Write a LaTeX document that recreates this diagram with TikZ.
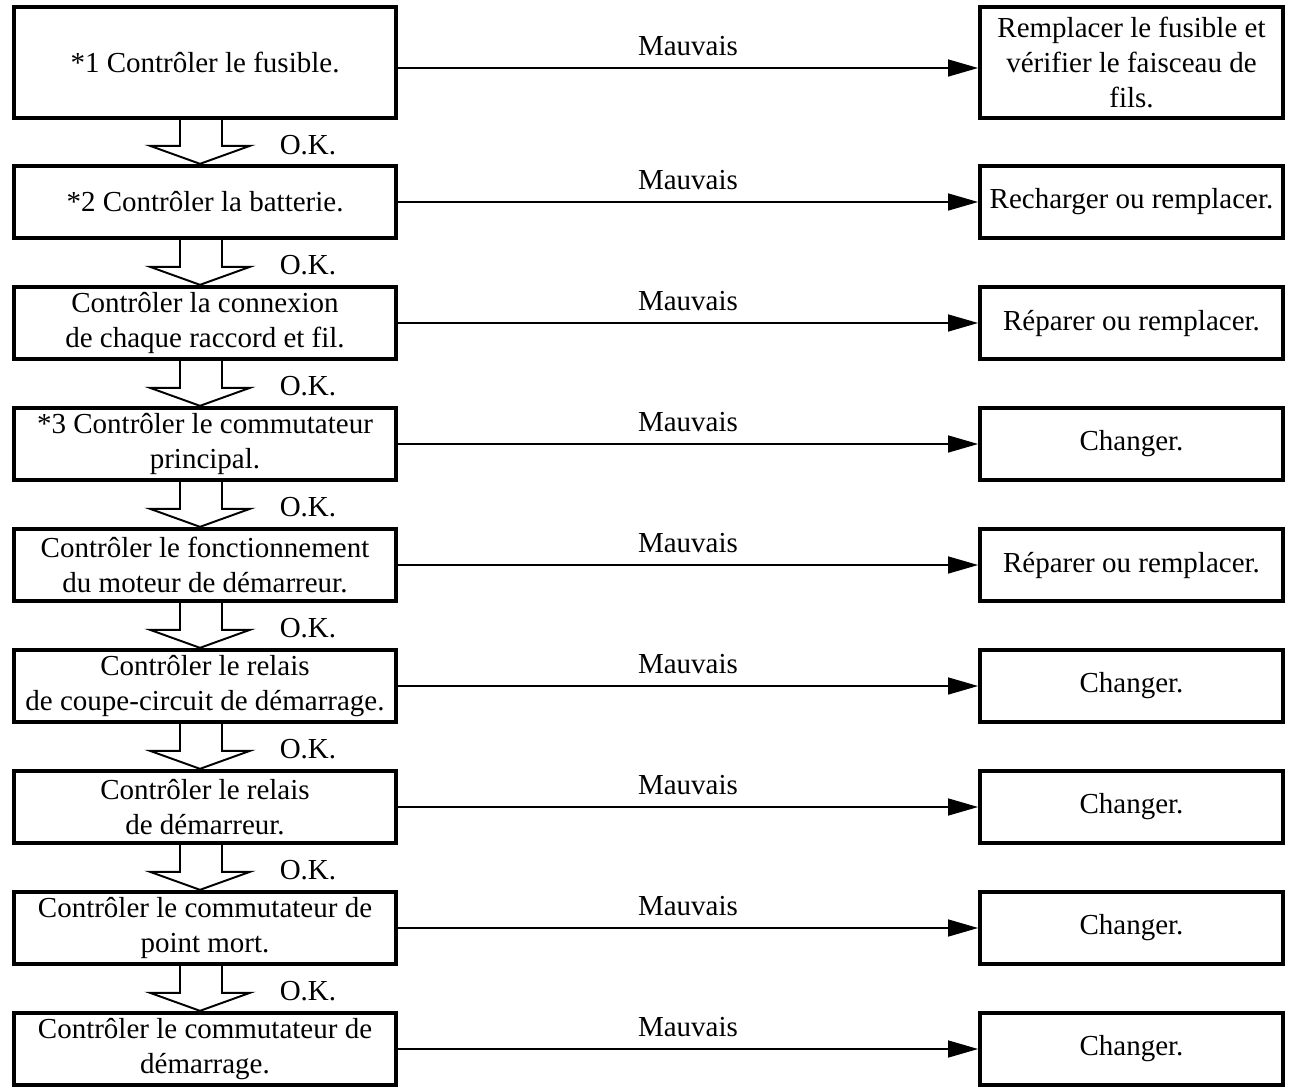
\documentclass[tikz,border=0pt]{standalone}
\usepackage{fontspec}
\setmainfont{Liberation Serif}
\newfontfamily\chartfont{Liberation Serif}
\usetikzlibrary{arrows.meta,calc,positioning}

\tikzset{
  txt/.style={font=\chartfont\fontsize{16.5}{20}\selectfont},
  checkbox/.style={txt,draw,line width=2.2pt,minimum width=7.64cm,minimum height=1.45cm,align=center,inner sep=1pt},
  fixbox/.style={txt,draw,line width=2.2pt,minimum width=6.06cm,minimum height=1.45cm,align=center,inner sep=1pt},
  bad/.style={line width=.85pt,-{Triangle[length=.6cm,width=.34cm]}},
  okarrow/.style={line width=1.1pt,line join=miter}
}

\begin{document}
\begin{tikzpicture}
    \useasboundingbox (0,0) rectangle (25.82,-21.76);
    % checks
    \node[checkbox,minimum height=2.22cm] (c1) at (4.1,-1.25) {*1 Contrôler le fusible.};
    \node[checkbox] (c2) at (4.1,-4.04) {*2 Contrôler la batterie.};
    \node[checkbox] (c3) at (4.1,-6.46) {Contrôler la connexion\\de chaque raccord et fil.};
    \node[checkbox] (c4) at (4.1,-8.88) {*3 Contrôler le commutateur\\principal.};
    \node[checkbox] (c5) at (4.1,-11.30) {Contrôler le fonctionnement\\du moteur de démarreur.};
    \node[checkbox] (c6) at (4.1,-13.72) {Contrôler le relais\\de coupe-circuit de démarrage.};
    \node[checkbox] (c7) at (4.1,-16.14) {Contrôler le relais\\de démarreur.};
    \node[checkbox] (c8) at (4.1,-18.56) {Contrôler le commutateur de\\point mort.};
    \node[checkbox] (c9) at (4.1,-20.98) {Contrôler le commutateur de\\démarrage.};
    % remedies
    \node[fixbox,minimum height=2.22cm] (r1) at (22.63,-1.25) {Remplacer le fusible et\\vérifier le faisceau de\\fils.};
    \node[fixbox] (r2) at (22.63,-4.04) {Recharger ou remplacer.};
    \node[fixbox] (r3) at (22.63,-6.46) {Réparer ou remplacer.};
    \node[fixbox] (r4) at (22.63,-8.88) {Changer.};
    \node[fixbox] (r5) at (22.63,-11.30) {Réparer ou remplacer.};
    \node[fixbox] (r6) at (22.63,-13.72) {Changer.};
    \node[fixbox] (r7) at (22.63,-16.14) {Changer.};
    \node[fixbox] (r8) at (22.63,-18.56) {Changer.};
    \node[fixbox] (r9) at (22.63,-20.98) {Changer.};
    % Mauvais
    \draw[bad] ([yshift=-.11cm]c1.east) -- node[txt,above=3pt] (m1) {Mauvais} ([yshift=-.11cm]r1.west);
    \foreach \i in {2,...,9}
      \draw[bad] (c\i) -- node[txt,above=3pt] (m\i) {Mauvais} (r\i);
    % O.K.
    \foreach \a/\b in {1/2,2/3,3/4,4/5,5/6,6/7,7/8,8/9} {
      \draw[okarrow] ($(c\a.south)+(-.5,0)$) -- ($(c\b.north)+(-.5,.36)$) -- ($(c\b.north)+(-1.1,.36)$)
        -- ($(c\b.north)+(-.1,0)$) -- ($(c\b.north)+(.9,.36)$) -- ($(c\b.north)+(.34,.36)$) -- ($(c\a.south)+(.34,0)$);
      \node[txt] (ok\a) at ($(c\a.south)+(2.06,-.5)$) {O.K.};
    }
\end{tikzpicture}
\end{document}
